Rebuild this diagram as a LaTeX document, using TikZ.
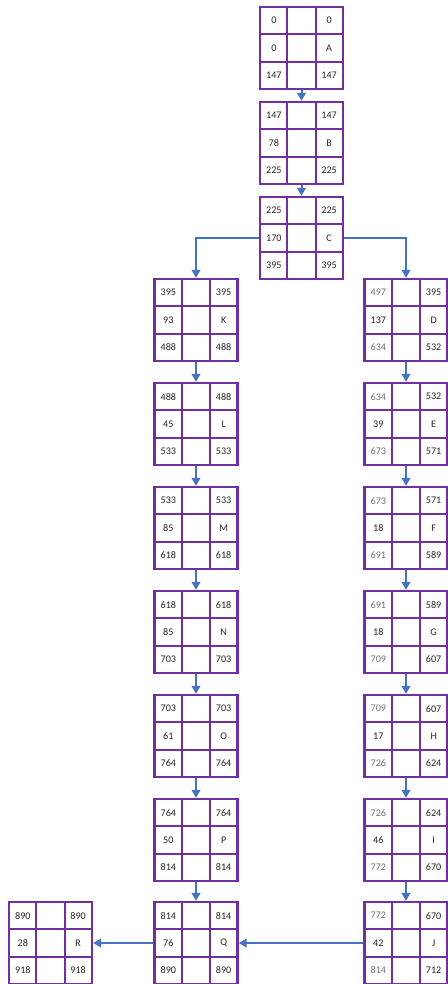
\documentclass[tikz,border=0pt]{standalone}
\usepackage{fontspec}
\setmainfont{Carlito}
\usetikzlibrary{calc,arrows.meta}
\definecolor{gridpurple}{HTML}{7030A0}
\definecolor{arrowblue}{HTML}{4472C4}
\definecolor{lightnum}{HTML}{707070}
\tikzset{
  gridbox/.style={draw=gridpurple, line width=1.8pt, minimum width=62.25pt, minimum height=61.5pt, inner sep=0pt, fill=white},
  gridline/.style={draw=gridpurple, line width=1.8pt},
  celltext/.style={inner sep=0pt, font=\fontsize{7.6}{9}\selectfont, text=black!85},
  flow/.style={draw=arrowblue, line width=1.5pt, -{Triangle[width=6.5pt,length=6pt]}},
}
\newcommand\dimnum[1]{\textcolor{lightnum}{#1}}
\newcommand\grid[8]{%
  \node[gridbox] (#1) at (#2) {};
  \draw[gridline] ($(#1.north west)!1/3!(#1.north east)$) -- ($(#1.south west)!1/3!(#1.south east)$);
  \draw[gridline] ($(#1.north west)!2/3!(#1.north east)$) -- ($(#1.south west)!2/3!(#1.south east)$);
  \draw[gridline] ($(#1.north west)!1/3!(#1.south west)$) -- ($(#1.north east)!1/3!(#1.south east)$);
  \draw[gridline] ($(#1.north west)!2/3!(#1.south west)$) -- ($(#1.north east)!2/3!(#1.south east)$);
  \node[celltext] (#1-tl) at ($(#1.center)+(-27.67,-27.33)$) {#3};
  \node[celltext] (#1-tr) at ($(#1.center)+(27.67,-27.33)$) {#4};
  \node[celltext] (#1-ml) at ($(#1.center)+(-27.67,0)$) {#5};
  \node[celltext] (#1-mr) at ($(#1.center)+(27.67,0)$) {#6};
  \node[celltext] (#1-bl) at ($(#1.center)+(-27.67,27.33)$) {#7};
  \node[celltext] (#1-br) at ($(#1.center)+(27.67,27.33)$) {#8};
}
\begin{document}
\begin{tikzpicture}[x=0.75pt, y=-0.75pt]
\useasboundingbox[fill=white] (0,0) rectangle (448,984);
% top chain
\grid{A}{301.5,48}{0}{0}{0}{A}{147}{147}
\grid{B}{301.5,143}{147}{147}{78}{B}{225}{225}
\grid{C}{301.5,238}{225}{225}{170}{C}{395}{395}
% left chain
\grid{K}{196,320}{395}{395}{93}{K}{488}{488}
\grid{L}{196,424}{488}{488}{45}{L}{533}{533}
\grid{M}{196,528}{533}{533}{85}{M}{618}{618}
\grid{N}{196,632}{618}{618}{85}{N}{703}{703}
\grid{O}{196,736}{703}{703}{61}{O}{764}{764}
\grid{P}{196,840}{764}{764}{50}{P}{814}{814}
\grid{Q}{196,943}{814}{814}{76}{Q}{890}{890}
% right chain
\grid{D}{406,320}{\dimnum{497}}{395}{137}{D}{\dimnum{634}}{532}
\grid{E}{406,424}{\dimnum{634}}{532}{39}{E}{\dimnum{673}}{571}
\grid{F}{406,528}{\dimnum{673}}{571}{18}{F}{\dimnum{691}}{589}
\grid{G}{406,632}{\dimnum{691}}{589}{18}{G}{\dimnum{709}}{607}
\grid{H}{406,736}{\dimnum{709}}{607}{17}{H}{\dimnum{726}}{624}
\grid{I}{406,840}{\dimnum{726}}{624}{46}{I}{\dimnum{772}}{670}
\grid{J}{406,943}{\dimnum{772}}{670}{42}{J}{\dimnum{814}}{712}
% R
\grid{R}{50.5,943}{890}{890}{28}{R}{918}{918}
% connectors
\draw[flow] (A.south) -- (B.north);
\draw[flow] (B.south) -- (C.north);
\draw[flow] (C.west) -| (K.north);
\draw[flow] (C.east) -| (D.north);
\draw[flow] (K.south) -- (L.north);
\draw[flow] (L.south) -- (M.north);
\draw[flow] (M.south) -- (N.north);
\draw[flow] (N.south) -- (O.north);
\draw[flow] (O.south) -- (P.north);
\draw[flow] (P.south) -- (Q.north);
\draw[flow] (D.south) -- (E.north);
\draw[flow] (E.south) -- (F.north);
\draw[flow] (F.south) -- (G.north);
\draw[flow] (G.south) -- (H.north);
\draw[flow] (H.south) -- (I.north);
\draw[flow] (I.south) -- (J.north);
\draw[flow] (J.west) -- (Q.east);
\draw[flow] (Q.west) -- (R.east);
\end{tikzpicture}
\end{document}
